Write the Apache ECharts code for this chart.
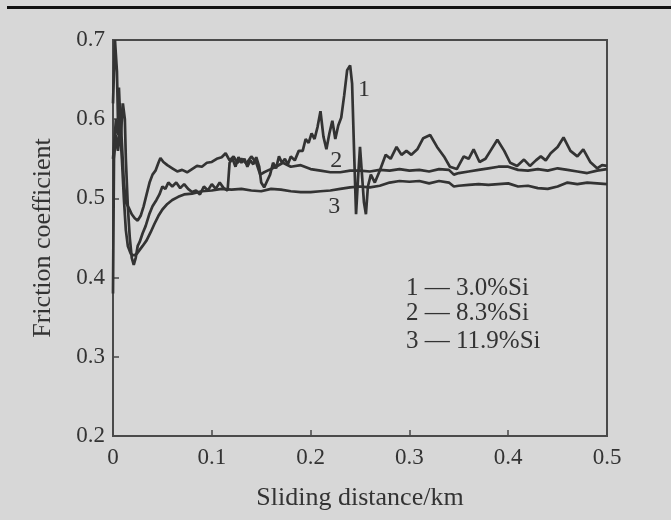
<!DOCTYPE html>
<html>
<head>
<meta charset="utf-8">
<script src="https://cdn.jsdelivr.net/npm/echarts@6/dist/echarts.min.js"></script>
<style>
html,body{margin:0;padding:0;background:#d7d7d7;}
#c{width:671px;height:520px;}
</style>
</head>
<body>
<div id="c"></div>
<script>
// Friction coefficient vs sliding distance (km)
const xTicks = [0, 0.1, 0.2, 0.3, 0.4, 0.5];
const yTicks = [0.2, 0.3, 0.4, 0.5, 0.6, 0.7];
const seriesNames = ['3.0%Si', '8.3%Si', '11.9%Si'];
const curveTags = ['1', '2', '3'];
const tagPositions = [[0.254, 0.637], [0.226, 0.548], [0.224, 0.489]];

const curve1 = [[0.000,0.62],[0.002,0.70],[0.004,0.66],[0.005,0.60],[0.006,0.64],[0.008,0.58],[0.010,0.62],[0.012,0.60],[0.013,0.55],[0.015,0.49],[0.017,0.45],[0.019,0.425],[0.021,0.416],[0.023,0.425],[0.025,0.44],[0.027,0.445],[0.030,0.456],[0.033,0.465],[0.037,0.481],[0.040,0.49],[0.044,0.498],[0.047,0.505],[0.050,0.515],[0.053,0.512],[0.056,0.52],[0.060,0.515],[0.064,0.52],[0.068,0.513],[0.072,0.518],[0.076,0.512],[0.080,0.508],[0.084,0.51],[0.088,0.505],[0.092,0.515],[0.096,0.51],[0.100,0.518],[0.104,0.512],[0.108,0.52],[0.112,0.513],[0.116,0.51],[0.118,0.545],[0.121,0.55],[0.124,0.54],[0.127,0.552],[0.130,0.545],[0.133,0.55],[0.136,0.54],[0.139,0.548],[0.142,0.543],[0.145,0.552],[0.148,0.54],[0.150,0.52],[0.153,0.514],[0.156,0.522],[0.159,0.53],[0.162,0.545],[0.165,0.538],[0.168,0.553],[0.171,0.545],[0.174,0.55],[0.177,0.543],[0.180,0.553],[0.184,0.548],[0.188,0.56],[0.192,0.56],[0.195,0.575],[0.198,0.57],[0.201,0.582],[0.204,0.575],[0.207,0.59],[0.210,0.61],[0.213,0.578],[0.216,0.562],[0.219,0.582],[0.222,0.598],[0.225,0.575],[0.228,0.592],[0.231,0.602],[0.234,0.63],[0.237,0.662],[0.240,0.668],[0.242,0.645],[0.244,0.56],[0.246,0.48],[0.248,0.525],[0.250,0.565],[0.252,0.53],[0.254,0.495],[0.256,0.48],[0.258,0.515],[0.261,0.53],[0.265,0.52],[0.270,0.535],[0.276,0.555],[0.281,0.55],[0.287,0.565],[0.292,0.555],[0.297,0.56],[0.302,0.555],[0.308,0.562],[0.314,0.576],[0.321,0.58],[0.328,0.565],[0.335,0.553],[0.341,0.54],[0.348,0.537],[0.355,0.553],[0.360,0.55],[0.365,0.562],[0.371,0.546],[0.377,0.55],[0.382,0.56],[0.389,0.574],[0.396,0.56],[0.402,0.545],[0.409,0.541],[0.416,0.549],[0.422,0.541],[0.428,0.548],[0.433,0.553],[0.438,0.548],[0.443,0.557],[0.450,0.565],[0.456,0.577],[0.463,0.56],[0.470,0.553],[0.476,0.562],[0.483,0.546],[0.490,0.538],[0.495,0.542],[0.500,0.541]];

const curve2 = [[0.000,0.55],[0.003,0.60],[0.005,0.58],[0.007,0.62],[0.009,0.57],[0.011,0.52],[0.013,0.495],[0.016,0.488],[0.019,0.48],[0.022,0.475],[0.025,0.472],[0.028,0.478],[0.031,0.49],[0.034,0.505],[0.037,0.52],[0.040,0.53],[0.043,0.535],[0.046,0.545],[0.048,0.551],[0.051,0.546],[0.055,0.542],[0.060,0.538],[0.065,0.534],[0.070,0.536],[0.075,0.533],[0.080,0.537],[0.085,0.541],[0.090,0.54],[0.095,0.545],[0.100,0.546],[0.105,0.55],[0.110,0.552],[0.114,0.557],[0.118,0.548],[0.122,0.553],[0.126,0.545],[0.130,0.55],[0.135,0.544],[0.140,0.553],[0.145,0.545],[0.149,0.53],[0.153,0.533],[0.158,0.536],[0.165,0.54],[0.172,0.545],[0.180,0.54],[0.190,0.542],[0.200,0.537],[0.210,0.535],[0.220,0.533],[0.230,0.533],[0.240,0.535],[0.250,0.535],[0.260,0.534],[0.270,0.536],[0.280,0.535],[0.290,0.537],[0.300,0.535],[0.310,0.536],[0.320,0.534],[0.330,0.537],[0.340,0.536],[0.345,0.53],[0.350,0.532],[0.360,0.534],[0.370,0.536],[0.380,0.538],[0.390,0.54],[0.400,0.54],[0.410,0.536],[0.420,0.535],[0.430,0.537],[0.440,0.535],[0.450,0.538],[0.460,0.536],[0.470,0.534],[0.480,0.532],[0.490,0.535],[0.500,0.537]];

const curve3 = [[0.000,0.38],[0.001,0.55],[0.003,0.58],[0.005,0.56],[0.007,0.59],[0.009,0.55],[0.011,0.50],[0.013,0.46],[0.015,0.44],[0.018,0.43],[0.021,0.428],[0.024,0.43],[0.027,0.435],[0.030,0.44],[0.034,0.447],[0.038,0.457],[0.042,0.468],[0.046,0.478],[0.050,0.486],[0.055,0.493],[0.060,0.498],[0.066,0.502],[0.072,0.505],[0.080,0.506],[0.090,0.509],[0.100,0.51],[0.110,0.512],[0.120,0.511],[0.130,0.512],[0.140,0.51],[0.150,0.509],[0.160,0.512],[0.170,0.511],[0.180,0.509],[0.190,0.508],[0.200,0.508],[0.210,0.509],[0.220,0.51],[0.230,0.512],[0.240,0.514],[0.250,0.515],[0.260,0.514],[0.270,0.516],[0.280,0.52],[0.290,0.522],[0.300,0.521],[0.310,0.522],[0.320,0.519],[0.330,0.522],[0.340,0.52],[0.345,0.515],[0.350,0.516],[0.360,0.517],[0.370,0.518],[0.380,0.517],[0.390,0.518],[0.400,0.519],[0.410,0.515],[0.420,0.516],[0.430,0.513],[0.440,0.512],[0.450,0.515],[0.460,0.52],[0.470,0.518],[0.480,0.52],[0.490,0.519],[0.500,0.518]];

const curves = [curve1, curve2, curve3];
const FONT = '"Liberation Serif", "DejaVu Serif", serif';
const INK = '#333333';

const chart = echarts.init(document.getElementById('c'), null, {renderer: 'canvas'});

const series = curves.map((data, i) => ({
  name: seriesNames[i],
  type: 'line',
  data: data,
  symbol: 'none',
  smooth: false,
  lineStyle: {color: INK, width: 2.7},
  z: 3,
  markPoint: {
    symbol: 'circle',
    symbolSize: 0,
    silent: true,
    data: [{coord: tagPositions[i], value: curveTags[i]}],
    label: {show: true, formatter: curveTags[i], color: '#333', fontFamily: FONT, fontSize: 24, position: 'inside'}
  }
}));

chart.setOption({
  backgroundColor: '#d7d7d7',
  animation: false,
  grid: {left: 113, right: 64, top: 40, bottom: 84, show: true, borderColor: '#4a4a4a', borderWidth: 2, backgroundColor: 'transparent'},
  xAxis: {
    type: 'value', min: xTicks[0], max: xTicks[xTicks.length - 1], interval: 0.1,
    name: 'Sliding distance/km', nameLocation: 'middle', nameGap: 49,
    nameTextStyle: {fontFamily: FONT, fontSize: 26, color: '#333'},
    axisLine: {show: true, lineStyle: {color: '#4a4a4a', width: 2}},
    axisTick: {show: true, inside: true, length: 6, lineStyle: {color: '#4a4a4a', width: 1.5}},
    splitLine: {show: false},
    axisLabel: {fontFamily: FONT, fontSize: 23, color: '#333', margin: 10,
      formatter: v => (Math.abs(v) < 1e-9 ? '0' : v.toFixed(1))}
  },
  yAxis: {
    type: 'value', min: yTicks[0], max: yTicks[yTicks.length - 1], interval: 0.1,
    name: 'Friction coefficient', nameLocation: 'middle', nameGap: 57,
    nameTextStyle: {fontFamily: FONT, fontSize: 26, color: '#333'},
    axisLine: {show: true, lineStyle: {color: '#4a4a4a', width: 2}},
    axisTick: {show: true, inside: true, length: 6, lineStyle: {color: '#4a4a4a', width: 1.5}},
    splitLine: {show: false},
    axisLabel: {fontFamily: FONT, fontSize: 23, color: '#333', margin: 8,
      formatter: v => v.toFixed(1)}
  },
  graphic: [
    {type: 'rect', shape: {x: 7, y: 6, width: 664, height: 3}, style: {fill: '#111'}, silent: true},
    {type: 'text', left: 406, top: 276, style: {text: '1 — ' + seriesNames[0], font: '25px ' + FONT, fill: '#333'}},
    {type: 'text', left: 406, top: 301, style: {text: '2 — ' + seriesNames[1], font: '25px ' + FONT, fill: '#333'}},
    {type: 'text', left: 406, top: 329, style: {text: '3 — ' + seriesNames[2], font: '25px ' + FONT, fill: '#333'}}
  ],
  series: series
});
</script>
</body>
</html>
